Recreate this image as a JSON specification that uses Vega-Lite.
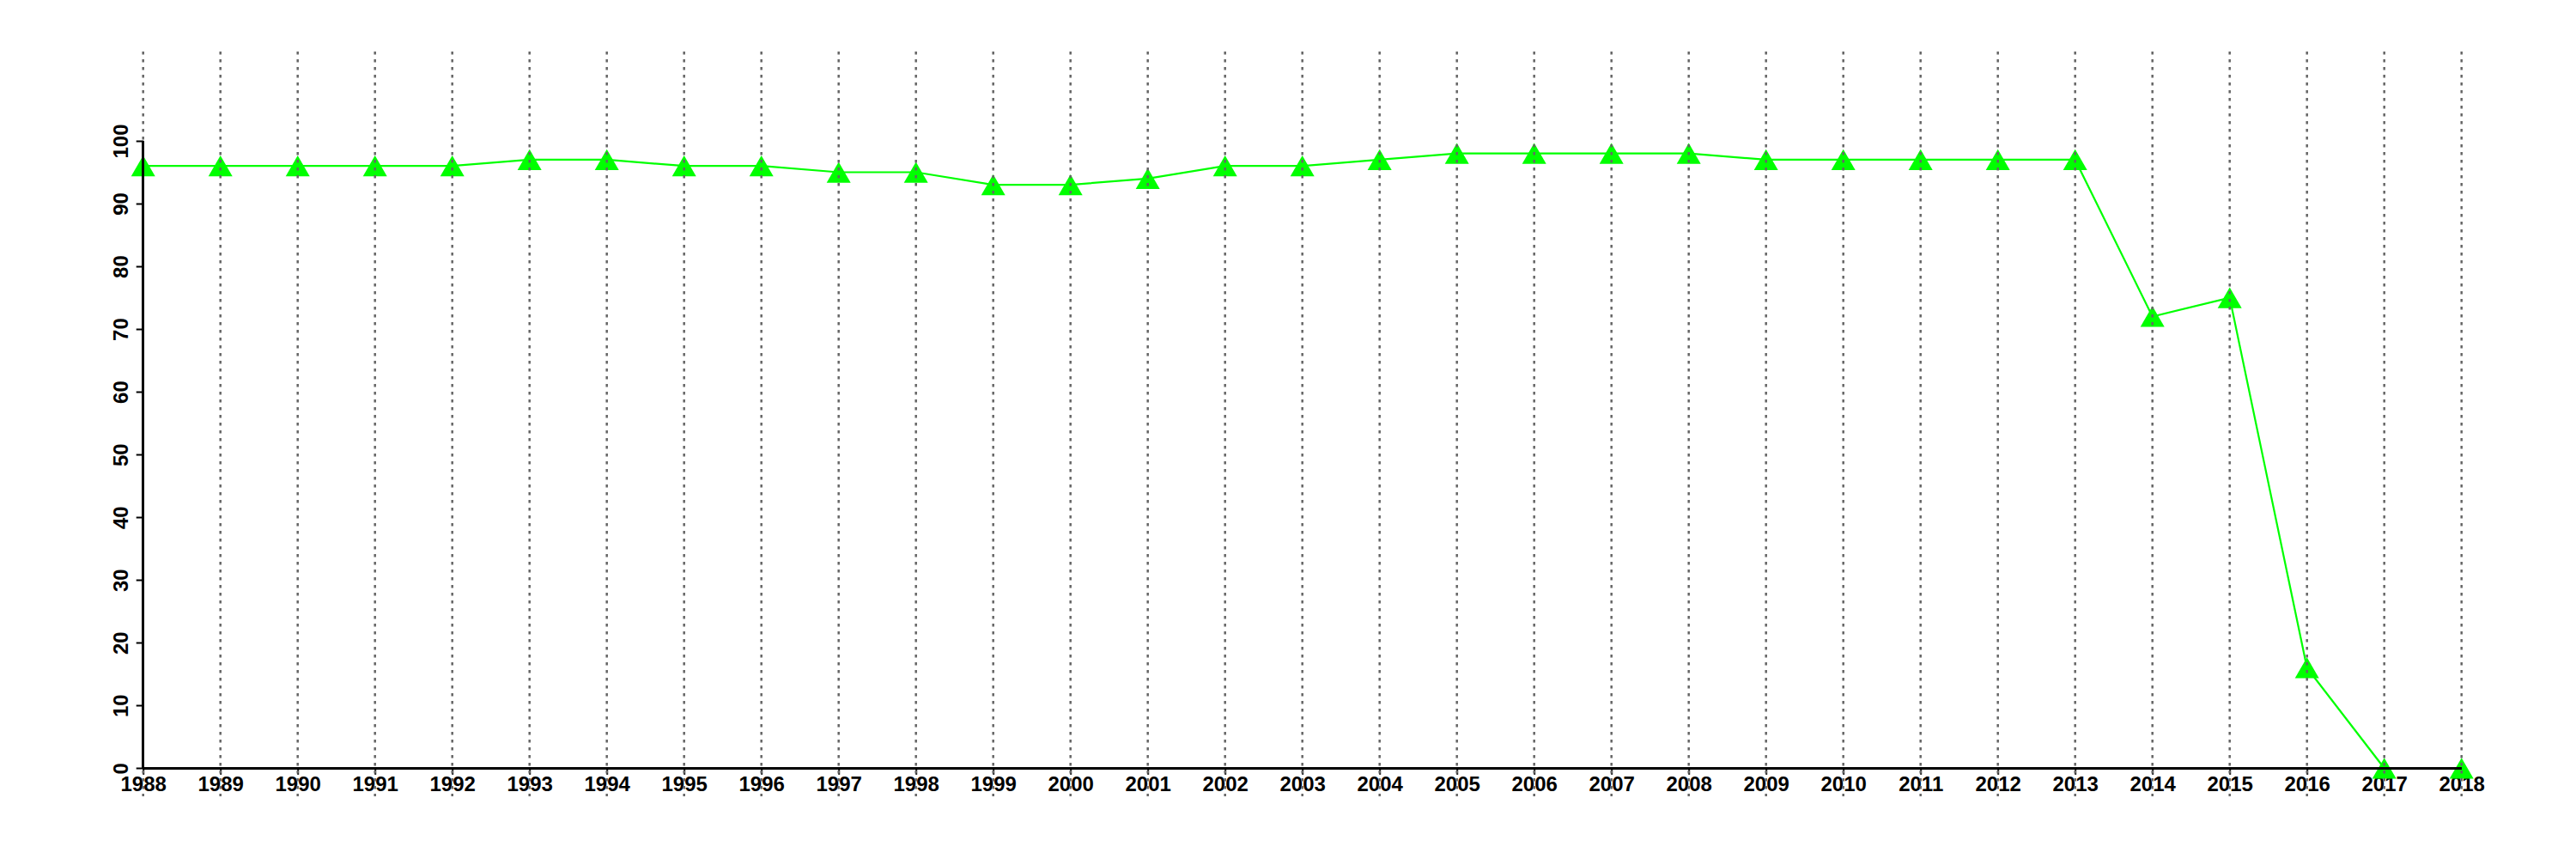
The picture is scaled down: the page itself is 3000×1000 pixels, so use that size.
{
  "$schema": "https://vega.github.io/schema/vega-lite/v6.json",
  "autosize": {"type": "none"},
  "width": 2700,
  "height": 867,
  "padding": {"left": 166.7, "top": 60, "right": 133.3, "bottom": 73},
  "background": "white",
  "config": {"view": {"stroke": null}, "font": "Liberation Sans"},
  "data": {"values": [
    {"year": 1988, "value": 96}, {"year": 1989, "value": 96}, {"year": 1990, "value": 96},
    {"year": 1991, "value": 96}, {"year": 1992, "value": 96}, {"year": 1993, "value": 97},
    {"year": 1994, "value": 97}, {"year": 1995, "value": 96}, {"year": 1996, "value": 96},
    {"year": 1997, "value": 95}, {"year": 1998, "value": 95}, {"year": 1999, "value": 93},
    {"year": 2000, "value": 93}, {"year": 2001, "value": 94}, {"year": 2002, "value": 96},
    {"year": 2003, "value": 96}, {"year": 2004, "value": 97}, {"year": 2005, "value": 98},
    {"year": 2006, "value": 98}, {"year": 2007, "value": 98}, {"year": 2008, "value": 98},
    {"year": 2009, "value": 97}, {"year": 2010, "value": 97}, {"year": 2011, "value": 97},
    {"year": 2012, "value": 97}, {"year": 2013, "value": 97}, {"year": 2014, "value": 72},
    {"year": 2015, "value": 75}, {"year": 2016, "value": 16}, {"year": 2017, "value": 0},
    {"year": 2018, "value": 0}
  ]},
  "encoding": {
    "x": {
      "field": "year", "type": "quantitative",
      "scale": {"domain": [1988, 2018], "nice": false, "zero": false},
      "axis": {
        "title": null, "orient": "bottom", "offset": -32.7, "domain": false, "grid": false,
        "values": [1988,1989,1990,1991,1992,1993,1994,1995,1996,1997,1998,1999,2000,2001,2002,2003,2004,2005,2006,2007,2008,2009,2010,2011,2012,2013,2014,2015,2016,2017,2018],
        "format": "d", "tickSize": 7, "tickWidth": 2, "tickColor": "black",
        "labelFontSize": 24, "labelFontWeight": "bold", "labelColor": "black",
        "labelPadding": 0, "labelFlush": false, "labelOverlap": false
      }
    },
    "y": {
      "field": "value", "type": "quantitative",
      "scale": {"domain": [-4.48, 114.24], "nice": false, "zero": false},
      "axis": {
        "title": null, "domain": false, "grid": false,
        "values": [0,10,20,30,40,50,60,70,80,90,100],
        "tickSize": 8.5, "tickWidth": 2, "tickColor": "black",
        "labelFontSize": 24, "labelFontWeight": "bold", "labelColor": "black",
        "labelAngle": -90, "labelAlign": "center", "labelBaseline": "bottom",
        "labelPadding": 5, "labelFlush": false, "labelOverlap": false
      }
    }
  },
  "layer": [
    {"mark": {"type": "line", "color": "#00ff00", "strokeWidth": 2.2}},
    {"mark": {"type": "point", "shape": "triangle-up", "filled": true, "color": "#00ff00", "opacity": 1, "size": 784}},
    {"mark": {"type": "rule", "color": "#666666", "strokeWidth": 2.5, "strokeDash": [3.5, 5.5]},
     "encoding": {"x": {"field": "year", "type": "quantitative"}, "y": null}},
    {"mark": {"type": "rule", "color": "black", "strokeWidth": 2},
     "encoding": {"x": {"datum": 1988}, "y": {"datum": 0}, "y2": {"datum": 100}}},
    {"mark": {"type": "rule", "color": "black", "strokeWidth": 2},
     "encoding": {"x": {"datum": 1988}, "x2": {"datum": 2018}, "y": {"datum": 0}}}
  ]
}
